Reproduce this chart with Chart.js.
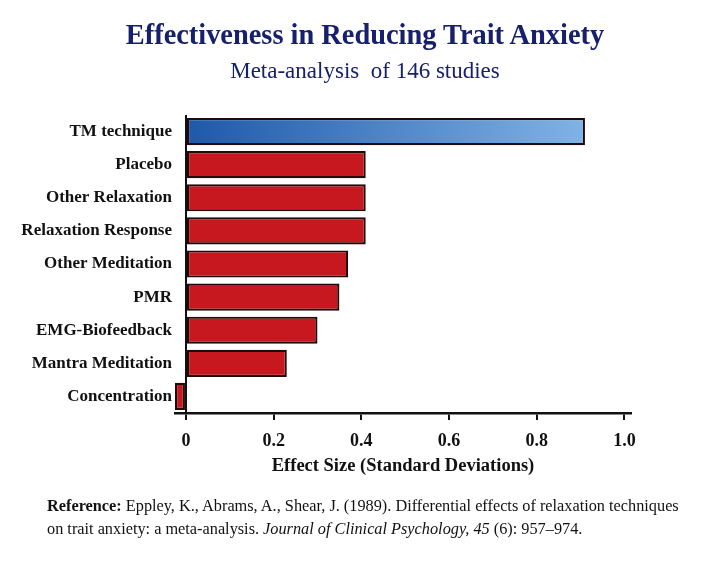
<!DOCTYPE html>
<html>
<head>
<meta charset="utf-8">
<script src="https://cdn.jsdelivr.net/npm/chart.js@4/dist/chart.umd.min.js"></script>
<style>
  html, body { margin: 0; padding: 0; background: #fff; }
  #wrap { position: relative; width: 702px; height: 561px; overflow: hidden; }
  #c { position: absolute; left: 0; top: 0; }
  .t { position: absolute; font-family: "Liberation Serif", "Times New Roman", serif; white-space: nowrap; }
  #title { left: 0; width: 730px; text-align: center; top: 21px; font-size: 28.4px; line-height: 28px; font-weight: bold; color: #17206c; }
  #subtitle { left: 0; width: 730px; text-align: center; top: 59px; font-size: 23px; line-height: 23px; color: #17206c; }
  #ref { left: 47px; top: 494px; font-size: 16.3px; line-height: 23px; color: #111; }
</style>
</head>
<body>
<div id="wrap">
  <canvas id="c" width="702" height="561"></canvas>
  <div class="t" id="title">Effectiveness in Reducing Trait Anxiety</div>
  <div class="t" id="subtitle">Meta-analysis&nbsp;&nbsp;of 146 studies</div>
  <div class="t" id="ref"><b>Reference:</b> Eppley, K., Abrams, A., Shear, J. (1989). Differential effects of relaxation techniques<br>on trait anxiety: a meta-analysis. <i>Journal of Clinical Psychology, 45</i> (6): 957–974.</div>
</div>
<script>
const categories = ["TM technique", "Placebo", "Other Relaxation", "Relaxation Response", "Other Meditation", "PMR", "EMG-Biofeedback", "Mantra Meditation", "Concentration"];
const effectSizes = [0.91, 0.41, 0.41, 0.41, 0.37, 0.35, 0.30, 0.23, -0.025];
const tickValues = [0, 0.2, 0.4, 0.6, 0.8, 1.0];
const tickLabels = ["0", "0.2", "0.4", "0.6", "0.8", "1.0"];
const axisTitle = "Effect Size (Standard Deviations)";

const serif = "'Liberation Serif', 'Times New Roman', serif";

function barFill(ctx) {
  if (ctx.dataIndex !== 0) return '#c8181f';
  const ca = ctx.chart.chartArea;
  if (!ca) return '#3f7cc8';
  const g = ctx.chart.ctx.createLinearGradient(ca.left, 0, ca.right * 0.93, 0);
  g.addColorStop(0, '#1b56a8');
  g.addColorStop(1, '#80b3e6');
  return g;
}

new Chart(document.getElementById('c'), {
  type: 'bar',
  data: {
    labels: categories,
    datasets: [{
      data: effectSizes,
      backgroundColor: barFill,
      borderColor: '#220909',
      borderWidth: 2.2,
      borderSkipped: false,
      barPercentage: 0.82,
      categoryPercentage: 1.0
    }]
  },
  options: {
    indexAxis: 'y',
    responsive: false,
    animation: false,
    layout: { padding: { top: 115, right: 71, bottom: 84, left: 0 } },
    plugins: { legend: { display: false }, tooltip: { enabled: false }, title: { display: false } },
    scales: {
      x: {
        type: 'linear',
        min: -0.025,
        max: 1.015,
        afterBuildTicks: s => { s.ticks = tickValues.map(v => ({ value: v })); },
        afterFit: s => { s.height = 64; },
        ticks: {
          callback: (v, i) => tickLabels[i],
          font: { family: serif, size: 18, weight: 'bold' },
          color: '#111',
          padding: 11,
          maxRotation: 0
        },
        grid: {
          color: c => (c.tick && c.tick.value === 0) ? '#111' : 'rgba(0,0,0,0)',
          lineWidth: 2,
          tickColor: '#111',
          tickLength: 7,
          drawOnChartArea: true
        },
        border: { display: true, color: '#111', width: 2.5 },
        title: {
          display: true,
          text: axisTitle,
          font: { family: serif, size: 18.5, weight: 'bold' },
          color: '#111',
          padding: { top: 0, bottom: 0 }
        }
      },
      y: {
        afterFit: s => { s.width = 175; },
        grid: { display: false, drawTicks: false, tickLength: 0 },
        border: { display: false },
        ticks: {
          font: { family: serif, size: 17, weight: 'bold' },
          color: '#111',
          padding: 3
        }
      }
    }
  }
});
</script>
</body>
</html>
